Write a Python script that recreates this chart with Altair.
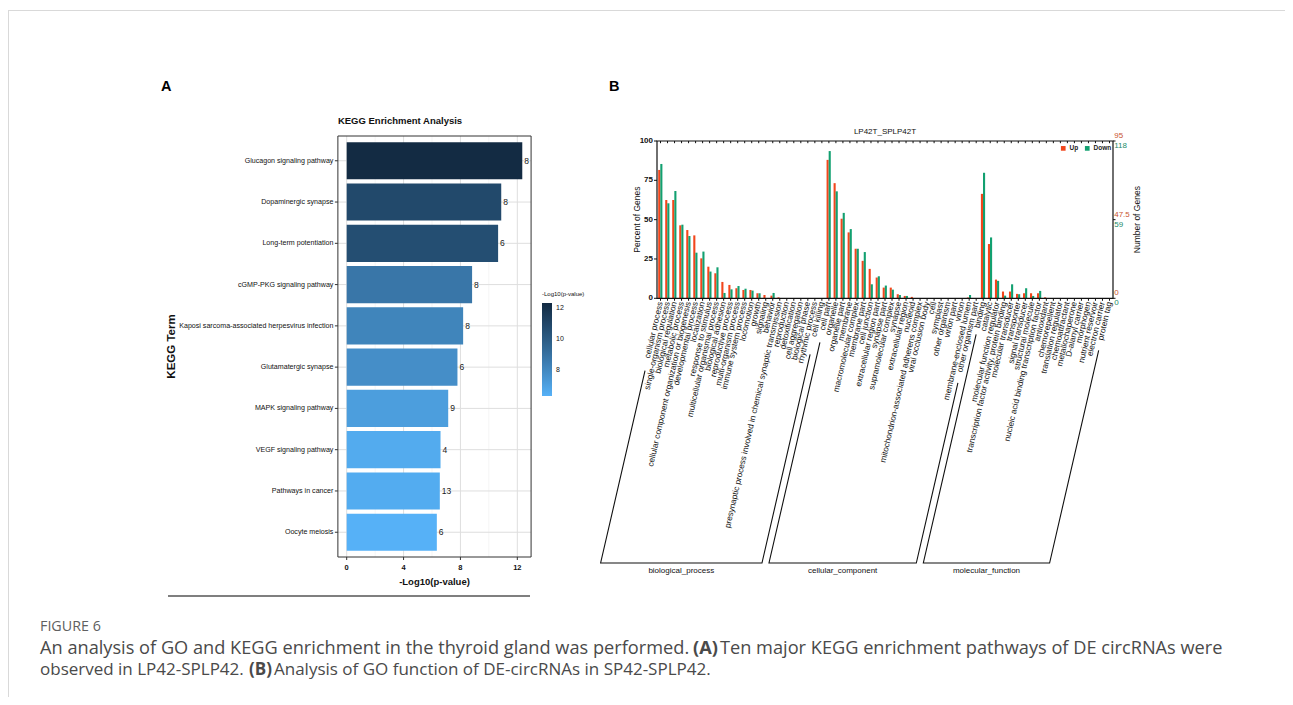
import math
import altair as alt
import pandas as pd

# ----------------------------- data: panel A (KEGG) -----------------------------
kegg_terms = [
    "Glucagon signaling pathway",
    "Dopaminergic synapse",
    "Long-term potentiation",
    "cGMP-PKG signaling pathway",
    "Kaposi sarcoma-associated herpesvirus infection",
    "Glutamatergic synapse",
    "MAPK signaling pathway",
    "VEGF signaling pathway",
    "Pathways in cancer",
    "Oocyte meiosis",
]
kegg_neglog10p = [12.35, 10.87, 10.65, 8.82, 8.19, 7.79, 7.14, 6.60, 6.55, 6.34]
kegg_counts = [8, 8, 6, 8, 8, 6, 9, 4, 13, 6]
kegg_major_ticks = [0, 4, 8, 12]
kegg_minor_ticks = [2, 6, 10]
kegg_legend_ticks = [8, 10, 12]

# ----------------------------- data: panel B (GO) -------------------------------
go_bp_terms = [
    "cellular process", "single-organism process", "biological regulation",
    "metabolic process", "cellular component organization or biogenesis",
    "developmental process", "localization", "response to stimulus",
    "multicellular organismal process", "biological adhesion", "reproductive process",
    "multi-organism process", "immune system process", "locomotion", "growth",
    "signaling", "behavior", "presynaptic process involved in chemical synaptic transmission",
    "reproduction", "detoxification", "cell aggregation", "biological phase",
    "rhythmic process", "cell killing",
]
go_bp_up = [81.6, 62.5, 62.5, 46.4, 43.4, 40.0, 25.4, 20.1, 15.9, 10.4, 8.5, 6.4,
            5.3, 5.3, 3.2, 2.1, 1.7, 0.6, 0, 0, 0, 0, 0, 0]
go_bp_down = [85.4, 60.4, 68.2, 46.8, 39.6, 29.0, 29.7, 17.0, 19.7, 3.4, 5.7, 7.8,
              6.1, 4.9, 3.2, 0, 3.4, 0, 0, 0, 0, 0, 0, 0]

go_cc_terms = [
    "cell part", "organelle", "organelle part", "membrane", "macromolecular complex",
    "membrane part", "cell junction", "extracellular region part", "synapse part",
    "supramolecular complex", "synapse", "extracellular region", "nucleoid",
    "mitochondrion-associated adherens complex", "viral occlusion body", "cell",
    "symplast", "other organism", "virion part", "virion", "membrane-enclosed lumen",
    "other organism part",
]
go_cc_up = [88.0, 73.2, 50.6, 41.9, 31.5, 23.8, 18.7, 13.2, 6.8, 6.8, 2.6, 1.5, 0.9,
            0, 0, 0, 0, 0, 0, 0, 0.5, 0]
go_cc_down = [93.6, 68.0, 54.3, 44.0, 31.5, 29.4, 8.9, 14.0, 8.1, 5.5, 2.1, 1.5, 0,
              0, 0, 0, 0, 0, 0, 0, 2.1, 0]

go_mf_terms = [
    "binding", "catalytic", "molecular function regulator",
    "transcription factor activity, protein binding", "molecular transducer",
    "transporter", "signal transducer", "structural molecule",
    "nucleic acid binding transcription factor", "antioxidant", "chemorepellent",
    "translation regulator", "chemoattractant", "metallochaperone", "D-alanyl carrier",
    "morphogen", "nutrient reservoir", "electron carrier", "protein tag",
]
go_mf_up = [66.4, 34.5, 11.9, 4.3, 4.3, 2.8, 3.2, 3.2, 3.2, 0.6, 0, 0, 0, 0, 0, 0, 0, 0, 0]
go_mf_down = [79.8, 38.7, 11.1, 1.7, 8.9, 2.6, 6.4, 1.5, 4.7, 0, 0, 0, 0, 0, 0, 0, 0, 0, 0]

go_group_names = ["biological_process", "cellular_component", "molecular_function"]
go_series = ["Up", "Down"]
go_percent_ticks = [0, 25, 50, 75, 100]
go_right_tick_pos = [100, 50, 0]
go_up_count_ticks = ["95", "47.5", "0"]
go_down_count_ticks = ["118", "59", "0"]

caption_head = "FIGURE 6"

# ----------------------------- layout / style -----------------------------------
OX, OY = 8, 8
W, H = 1277, 689
SANS = "Liberation Sans, Arial, sans-serif"
CAP = "Open Sans, sans-serif"
RED = "#F2461C"
GREEN = "#12A070"

# panel A geometry (page px)
A_PX0, A_PX12 = 346.7, 517.3
A_TOP, A_BOT = 136.0, 557.0
A_YLO, A_YHI = -0.6, 9.6
A_XLO, A_XHI = -0.62, 12.97
A_UX = (A_PX12 - A_PX0) / 12.0
A_UY = (A_BOT - A_TOP) / (A_YHI - A_YLO)
sxA = alt.Scale(domain=[0, 12], range=[A_PX0 - OX, A_PX12 - OX], nice=False, zero=False)
syA = alt.Scale(domain=[A_YLO, A_YHI], range=[A_TOP - OY, A_BOT - OY], nice=False, zero=False)

# panel B geometry (page px)
B_L, B_R, B_TOP, B_BOT = 657.0, 1113.0, 141.0, 298.3
go_terms = go_bp_terms + go_cc_terms + go_mf_terms
N = len(go_terms)
B_UX = (B_R - B_L) / N
B_UY = (B_BOT - B_TOP) / 100.0
sxB = alt.Scale(domain=[0, N], range=[B_L - OX, B_R - OX], nice=False, zero=False)
syB = alt.Scale(domain=[0, 100], range=[B_BOT - OY, B_TOP - OY], nice=False, zero=False)


def XA(f):
    return alt.X(f, type="quantitative", scale=sxA, axis=None)


def YA(f):
    return alt.Y(f, type="quantitative", scale=syA, axis=None)


def XB(f):
    return alt.X(f, type="quantitative", scale=sxB, axis=None)


def YB(f):
    return alt.Y(f, type="quantitative", scale=syB, axis=None)


layers = []

# ----------------------------- page furniture -----------------------------------
layers.append(alt.Chart(pd.DataFrame({"k": [0]})).mark_rule(color="#D9D9D9", strokeWidth=1).encode(
    x=alt.value(0), x2=alt.value(W), y=alt.value(2.5)))
layers.append(alt.Chart(pd.DataFrame({"k": [0]})).mark_rule(color="#D9D9D9", strokeWidth=1).encode(
    x=alt.value(0.5), y=alt.value(2.5), y2=alt.value(H)))

# ----------------------------- panel A ------------------------------------------
kdf = pd.DataFrame({
    "term": kegg_terms,
    "pos": list(range(len(kegg_terms))),
    "val": kegg_neglog10p,
    "cnt": kegg_counts,
})
kdf["y0"] = kdf["pos"] - 0.45
kdf["y1"] = kdf["pos"] + 0.45
kdf["zero"] = 0.0
kdf["gx0"] = A_XLO
kdf["gx1"] = A_XHI
kdf["tx0"] = A_XLO - 3.0 / A_UX
kdf["lx"] = A_XLO - 4.5 / A_UX

minor_df = pd.DataFrame({"v": kegg_minor_ticks, "y0": A_YLO, "y1": A_YHI})
major_df = pd.DataFrame({"v": kegg_major_ticks, "y0": A_YLO, "y1": A_YHI,
                         "t0": A_YHI, "t1": A_YHI + 3.0 / A_UY, "ly": A_YHI + 11.0 / A_UY})

layers.append(alt.Chart(minor_df).mark_rule(color="#F0F0F0", strokeWidth=0.7).encode(
    x=XA("v"), y=YA("y0"), y2=alt.Y2("y1")))
layers.append(alt.Chart(major_df).mark_rule(color="#DEDEDE", strokeWidth=1).encode(
    x=XA("v"), y=YA("y0"), y2=alt.Y2("y1")))
layers.append(alt.Chart(kdf).mark_rule(color="#DEDEDE", strokeWidth=1).encode(
    x=XA("gx0"), x2=alt.X2("gx1"), y=YA("pos")))

color_scale = alt.Scale(domain=[min(kegg_neglog10p), max(kegg_neglog10p)],
                        range=["#56B1F7", "#132B43"], interpolate="lab")
layers.append(alt.Chart(kdf).mark_rect().encode(
    x=XA("zero"), x2=alt.X2("val"), y=YA("y0"), y2=alt.Y2("y1"),
    color=alt.Color("val:Q", scale=color_scale, legend=alt.Legend(
        orient="none", legendX=534, legendY=283, direction="vertical",
        title="-Log10(p-value)", titleFont=SANS, titleFontSize=6, titleFontWeight="normal",
        titleColor="#111", titlePadding=6, values=kegg_legend_ticks, gradientLength=93,
        gradientThickness=10, gradientStrokeWidth=0, labelFont=SANS, labelFontSize=7,
        labelColor="#111", labelOffset=4, padding=0, tickCount=3))))
layers.append(alt.Chart(kdf).mark_text(align="left", baseline="middle", dx=2, font=SANS,
                                       fontSize=8.5, color="#1a1a1a").encode(
    x=XA("val"), y=YA("pos"), text="cnt:Q"))

frameA = pd.DataFrame({"x0": [A_XLO], "x1": [A_XHI], "y0": [A_YLO], "y1": [A_YHI]})
layers.append(alt.Chart(frameA).mark_rect(filled=False, stroke="#333333", strokeWidth=1).encode(
    x=XA("x0"), x2=alt.X2("x1"), y=YA("y0"), y2=alt.Y2("y1")))
layers.append(alt.Chart(kdf).mark_rule(color="#333333", strokeWidth=1).encode(
    x=XA("tx0"), x2=alt.X2("gx0"), y=YA("pos")))
layers.append(alt.Chart(kdf).mark_text(align="right", baseline="middle", font=SANS,
                                       fontSize=7.1, color="#111").encode(
    x=XA("lx"), y=YA("pos"), text="term:N"))
layers.append(alt.Chart(major_df).mark_rule(color="#333333", strokeWidth=1).encode(
    x=XA("v"), y=YA("t0"), y2=alt.Y2("t1")))
layers.append(alt.Chart(major_df).mark_text(align="center", baseline="middle", font=SANS,
                                            fontSize=7.5, fontWeight="bold", color="#111").encode(
    x=XA("v"), y=YA("ly"), text="v:Q"))

a_text = pd.DataFrame({
    "t": ["-Log10(p-value)", "KEGG Enrichment Analysis", "A"],
    "x": [(434.5 - A_PX0) / A_UX, A_XLO, (161 - A_PX0) / A_UX],
    "y": [A_YHI + 25.0 / A_UY, A_YLO - 15.0 / A_UY, A_YLO - (136 - 87) / A_UY],
})
layers.append(alt.Chart(a_text.iloc[[0]]).mark_text(align="center", baseline="middle", font=SANS,
                                                    fontSize=9.5, fontWeight="bold", color="#111").encode(
    x=XA("x"), y=YA("y"), text="t:N"))
layers.append(alt.Chart(a_text.iloc[[1]]).mark_text(align="left", baseline="middle", font=SANS,
                                                    fontSize=9.5, fontWeight="bold", color="#111").encode(
    x=XA("x"), y=YA("y"), text="t:N"))
layers.append(alt.Chart(a_text.iloc[[2]]).mark_text(align="left", baseline="middle", font=SANS,
                                                    fontSize=14.5, fontWeight="bold", color="#000").encode(
    x=XA("x"), y=YA("y"), text="t:N"))
ytitleA = pd.DataFrame({"t": ["KEGG Term"], "x": [(172 - A_PX0) / A_UX], "y": [(A_YLO + A_YHI) / 2]})
layers.append(alt.Chart(ytitleA).mark_text(align="center", baseline="middle", angle=270, font=SANS,
                                           fontSize=11.5, fontWeight="bold", color="#111").encode(
    x=XA("x"), y=YA("y"), text="t:N"))
sepA = pd.DataFrame({"x0": [(168 - A_PX0) / A_UX], "x1": [(530 - A_PX0) / A_UX],
                     "y": [A_YHI + (596 - A_BOT) / A_UY]})
layers.append(alt.Chart(sepA).mark_rule(color="#555555", strokeWidth=1.5).encode(
    x=XA("x0"), x2=alt.X2("x1"), y=YA("y")))

# ----------------------------- panel B ------------------------------------------
groups = ([go_group_names[0]] * len(go_bp_terms) + [go_group_names[1]] * len(go_cc_terms)
          + [go_group_names[2]] * len(go_mf_terms))
gdf = pd.DataFrame({"idx": list(range(N)), "term": go_terms, "group": groups,
                    "Up": go_bp_up + go_cc_up + go_mf_up,
                    "Down": go_bp_down + go_cc_down + go_mf_down})
long = gdf.melt(id_vars=["idx", "term", "group"], value_vars=go_series,
                var_name="series", value_name="pct")
long["x0"] = long["idx"] + 0.17 + (long["series"] == "Down") * 0.30
long["x1"] = long["x0"] + 0.30
long["zero"] = 0.0

layers.append(alt.Chart(long).mark_rect().encode(
    x=XB("x0"), x2=alt.X2("x1"), y=YB("zero"), y2=alt.Y2("pct"),
    color=alt.Color("series:N", scale=alt.Scale(domain=go_series, range=[RED, GREEN]),
                    legend=alt.Legend(orient="none", legendX=1052, legendY=137, direction="horizontal",
                                      title=None, symbolType="square", symbolSize=22,
                                      symbolStrokeWidth=0, labelFont=SANS, labelFontSize=6.5,
                                      labelFontWeight="bold", labelColor="#222", labelOffset=3,
                                      columnPadding=5, padding=0))))

frameB = pd.DataFrame({"x0": [0.0], "x1": [float(N)], "y0": [0.0], "y1": [100.0]})
layers.append(alt.Chart(frameB).mark_rect(filled=False, stroke="#111111", strokeWidth=1.2).encode(
    x=XB("x0"), x2=alt.X2("x1"), y=YB("y0"), y2=alt.Y2("y1")))

gdf["tick_x"] = gdf["idx"] + 0.5
gdf["top0"] = 100.0
gdf["top1"] = 100.0 - 2.2 / B_UY
gdf["bot0"] = 0.0
gdf["bot1"] = -2.5 / B_UY
LABEL_DX = 0.55
LABEL_Y = -2.4
gdf["lab_x"] = gdf["idx"] + LABEL_DX
gdf["lab_y"] = LABEL_Y
layers.append(alt.Chart(gdf).mark_rule(color="#111", strokeWidth=1).encode(
    x=XB("tick_x"), y=YB("top0"), y2=alt.Y2("top1")))
layers.append(alt.Chart(gdf).mark_rule(color="#111", strokeWidth=1).encode(
    x=XB("tick_x"), y=YB("bot0"), y2=alt.Y2("bot1")))
layers.append(alt.Chart(gdf).mark_text(align="right", baseline="middle", angle=283, font=SANS,
                                       fontSize=8.3, color="#111").encode(
    x=XB("lab_x"), y=YB("lab_y"), text="term:N"))

# group brackets running parallel to the slanted labels
ANG = math.radians(77)
BR_BOTTOM = -(563.0 - B_BOT) / B_UY
CHAR_W = 4.15
bottom_dist = (LABEL_Y - BR_BOTTOM) * B_UY / math.sin(ANG)


def along(i, dist):
    return (i + LABEL_DX - dist * math.cos(ANG) / B_UX, LABEL_Y - dist * math.sin(ANG) / B_UY)


bounds = []
start = 0
for terms in (go_bp_terms, go_cc_terms, go_mf_terms):
    bounds.append((start, start + len(terms) - 1))
    start += len(terms)

br_rows, gname_rows = [], []
for gname, (first, last) in zip(go_group_names, bounds):
    pts = [along(first, len(go_terms[first]) * CHAR_W + 4), along(first, bottom_dist),
           along(last, bottom_dist), along(last, len(go_terms[last]) * CHAR_W + 4)]
    for k, (px, py) in enumerate(pts):
        br_rows.append({"group": gname, "ord": k, "x": px, "y": py})
    gname_rows.append({"t": gname, "x": (pts[1][0] + pts[2][0]) / 2, "y": BR_BOTTOM - 4.0 / B_UY})
br_df = pd.DataFrame(br_rows)
gname_df = pd.DataFrame(gname_rows)
layers.append(alt.Chart(br_df).mark_line(color="#111", strokeWidth=1.1).encode(
    x=XB("x"), y=YB("y"), detail="group:N", order="ord:Q"))
layers.append(alt.Chart(gname_df).mark_text(align="center", baseline="top", font=SANS,
                                            fontSize=8, color="#111").encode(
    x=XB("x"), y=YB("y"), text="t:N"))

# left percent axis
ly = pd.DataFrame({"v": go_percent_ticks, "x0": -3.0 / B_UX, "x1": 0.0, "lx": -4.0 / B_UX})
layers.append(alt.Chart(ly).mark_rule(color="#111", strokeWidth=1).encode(
    x=XB("x0"), x2=alt.X2("x1"), y=YB("v")))
layers.append(alt.Chart(ly).mark_text(align="right", baseline="middle", font=SANS, fontSize=8,
                                      fontWeight="bold", color="#111").encode(
    x=XB("lx"), y=YB("v"), text="v:Q"))

# right count axis (Up in red, Down in green)
ry = pd.DataFrame({"v": go_right_tick_pos, "up": go_up_count_ticks, "down": go_down_count_ticks,
                   "x0": float(N), "x1": N + 2.5 / B_UX, "lx": N + 1.2 / B_UX})
layers.append(alt.Chart(ry).mark_rule(color="#111", strokeWidth=1).encode(
    x=XB("x0"), x2=alt.X2("x1"), y=YB("v")))
layers.append(alt.Chart(ry).mark_text(align="left", baseline="middle", dy=-5, font=SANS, fontSize=8,
                                      color="#C9552F").encode(
    x=XB("lx"), y=YB("v"), text="up:N"))
layers.append(alt.Chart(ry).mark_text(align="left", baseline="middle", dy=5, font=SANS, fontSize=8,
                                      color="#1E8C6A").encode(
    x=XB("lx"), y=YB("v"), text="down:N"))

b_titles = pd.DataFrame({
    "t": ["Percent of Genes", "Number of Genes"],
    "x": [(637 - B_L) / B_UX, (1137 - B_L) / B_UX],
    "y": [50.0, 50.0],
})
layers.append(alt.Chart(b_titles).mark_text(align="center", baseline="middle", angle=270, font=SANS,
                                            fontSize=8.5, color="#111").encode(
    x=XB("x"), y=YB("y"), text="t:N"))
b_head = pd.DataFrame({"t": ["LP42T_SPLP42T"], "x": [N / 2.0], "y": [100 + (B_TOP - 131.5) / B_UY]})
layers.append(alt.Chart(b_head).mark_text(align="center", baseline="middle", font=SANS,
                                          fontSize=8, color="#111").encode(
    x=XB("x"), y=YB("y"), text="t:N"))
b_letter = pd.DataFrame({"t": ["B"], "x": [(609 - B_L) / B_UX], "y": [100 + (B_TOP - 87) / B_UY]})
layers.append(alt.Chart(b_letter).mark_text(align="left", baseline="middle", font=SANS,
                                            fontSize=14.5, fontWeight="bold", color="#000").encode(
    x=XB("x"), y=YB("y"), text="t:N"))

# ----------------------------- caption ------------------------------------------
L1, L2 = 18.2, 17.0
cap_pieces = [
    (caption_head, 40, 627, 14.3, "normal", "#606060"),
    ("An analysis of GO and KEGG enrichment in the thyroid gland was performed.", 40, 649, L1, "normal", "#4a4a4a"),
    ("(A)", 693, 649, L1, "bold", "#4a4a4a"),
    ("Ten major KEGG enrichment pathways of DE circRNAs were", 720, 649, L1, "normal", "#4a4a4a"),
    ("observed in LP42-SPLP42.", 40, 670, L2, "normal", "#4a4a4a"),
    ("(B)", 249, 670, L2, "bold", "#4a4a4a"),
    ("Analysis of GO function of DE-circRNAs in SP42-SPLP42.", 274, 670, L2, "normal", "#4a4a4a"),
]
for txt, px, py, fs, fw, col in cap_pieces:
    layers.append(alt.Chart(pd.DataFrame({"t": [txt]})).mark_text(
        align="left", baseline="middle", font=CAP, fontSize=fs, fontWeight=fw, color=col).encode(
        x=alt.value(px - OX), y=alt.value(py - OY), text="t:N"))

chart = alt.layer(*layers).resolve_scale(
    x="independent", y="independent", color="independent"
).properties(
    width=W, height=H, padding=0, autosize=alt.AutoSizeParams(type="none"), background="white"
).configure_view(stroke=None)

chart.save("out.html", embed_options={"renderer": "svg", "actions": False})
